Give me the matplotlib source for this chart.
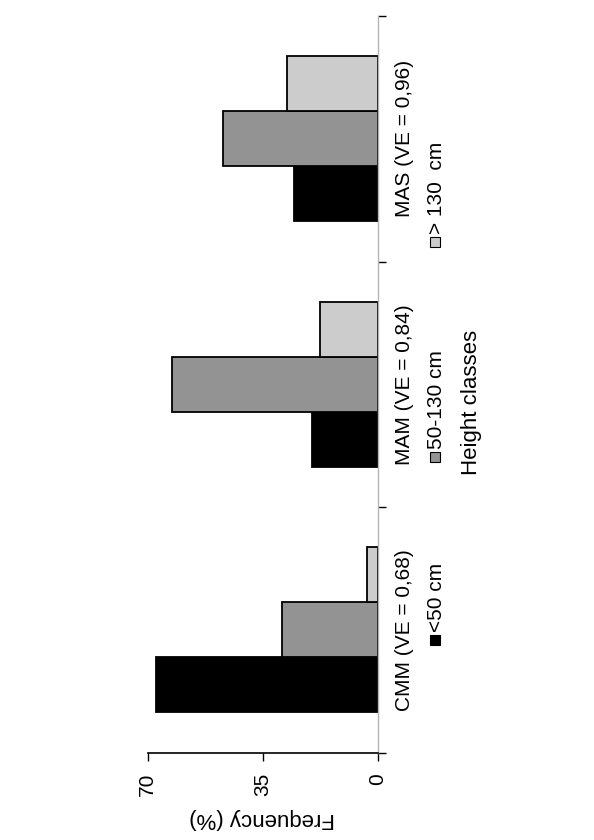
import numpy as np
import matplotlib
matplotlib.use('Agg')
import matplotlib.pyplot as plt
import matplotlib.transforms as mtransforms
from matplotlib.patches import Rectangle

plt.rcParams['font.family'] = ['Liberation Sans', 'DejaVu Sans']

# ─── Data ─────────────────────────────────────────────────────────────────────
categories = ['CMM (VE = 0,68)', 'MAM (VE = 0,84)', 'MAS (VE = 0,96)']
classes = ['<50 cm', '50-130 cm', '> 130  cm']
freq_lt50 = [67.6, 20.1, 25.4]
freq_50_130 = [29.0, 62.6, 47.0]
freq_gt130 = [3.3, 17.7, 27.6]
value_ticks = [0, 35, 70]

colors = ['#000000', '#939393', '#cccccc']
series = [freq_lt50, freq_50_130, freq_gt130]

W, H = 594, 840
fig = plt.figure(figsize=(W / 100, H / 100), dpi=100)

# axes box in pixels (from top-left): x 147.7..377.7, y 16..752.7
x0, x1, ytop, ybot = 147.7, 377.7, 16.0, 752.7
ax = fig.add_axes([x0 / W, (H - ybot) / H, (x1 - x0) / W, (ybot - ytop) / H])

ypos = np.arange(len(categories))
bh = 0.224
for i, (vals, col) in enumerate(zip(series, colors)):
    ax.barh(ypos + (i - 1) * bh, vals, height=bh, color=col,
            edgecolor='black', linewidth=1.3, zorder=2)

ax.set_xlim(70, 0)
ax.set_ylim(-0.5, len(categories) - 0.5)

# value axis (bottom)
ax.set_xticks(value_ticks)
ax.set_xticklabels([str(v) for v in value_ticks], rotation=90, fontsize=15)
ax.tick_params(axis='x', direction='out', length=5.5, width=1, pad=9)

# category axis (right side, ticks at boundaries)
ax.yaxis.tick_right()
ax.set_yticks(np.arange(-0.5, len(categories), 1.0))
ax.set_yticklabels([])
ax.tick_params(axis='y', direction='out', length=6, width=1, color='black')

for s in ['left', 'top']:
    ax.spines[s].set_visible(False)
ax.spines['right'].set_color('#b5b5b5')
ax.spines['right'].set_linewidth(1)
ax.spines['bottom'].set_linewidth(1.2)

# category labels
trans = mtransforms.blended_transform_factory(fig.transFigure, ax.transData)
for yy, lab in zip(ypos, categories):
    ax.text(405 / W, yy, lab, transform=trans, rotation=90, fontsize=15,
            ha='center', va='center', clip_on=False)

# legend, drawn rotated like the rest of the chart
sq_y = [645, 462, 247]   # bottom edge of each square (px from top)
for col, lab, yb in zip(colors, classes, sq_y):
    fig.patches.append(Rectangle((430 / W, (H - yb) / H), 10 / W, 10 / H,
                                 transform=fig.transFigure, facecolor=col,
                                 edgecolor='black', linewidth=0.8))
    fig.text(436 / W, (H - yb + 13) / H, lab, rotation=90, fontsize=15,
             ha='center', va='bottom')

fig.text(471 / W, (H - 402) / H, 'Height classes', rotation=90, fontsize=16,
         ha='center', va='center')

# value axis title (upside down, as in the reference)
fig.text(262 / W, (H - 819) / H, 'Frequency (%)', rotation=180, fontsize=16,
         ha='center', va='center')

fig.savefig('out.png', dpi=100)
